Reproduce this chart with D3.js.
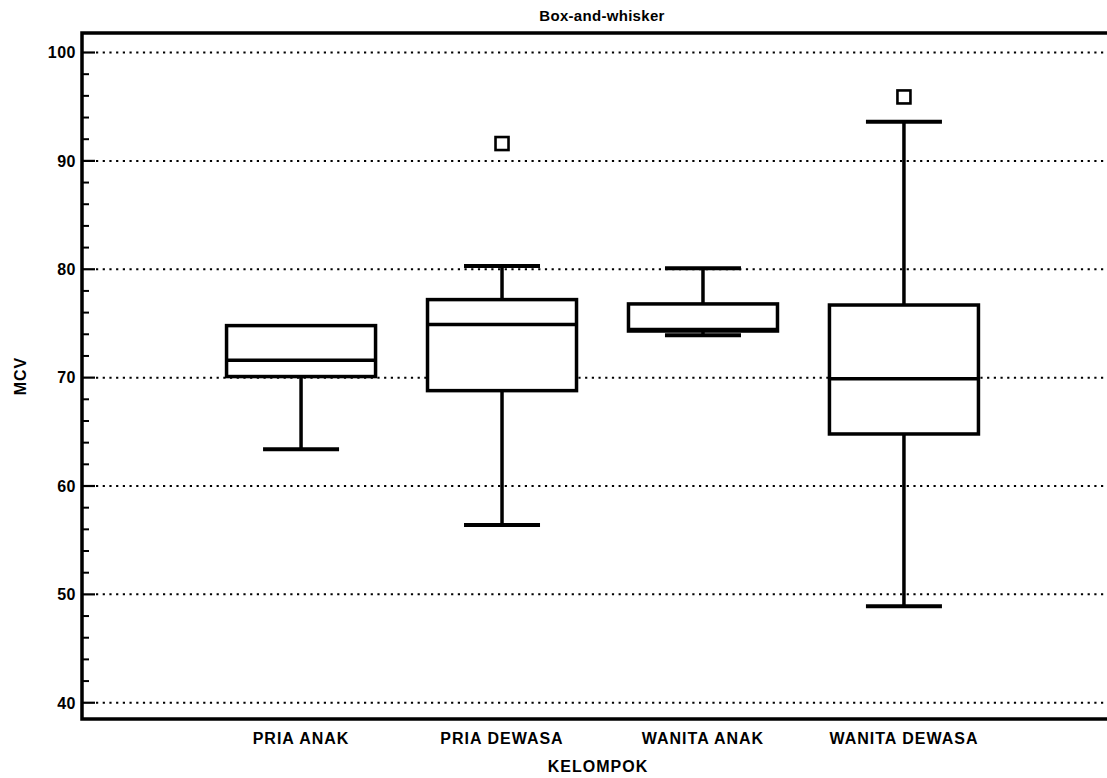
<!DOCTYPE html>
<html>
<head>
<meta charset="utf-8">
<script src="https://cdn.jsdelivr.net/npm/d3@7"></script>
<style>
  html, body { margin: 0; padding: 0; background: #fff; overflow: hidden; }
  svg { display: block; }
  text { font-family: "Liberation Sans", Arial, sans-serif; font-weight: bold; fill: #000; }
</style>
</head>
<body>
<div id="chart"></div>
<script>
// values
const groups = ["PRIA ANAK", "PRIA DEWASA", "WANITA ANAK", "WANITA DEWASA"];
const whiskerLow = [63.4, 56.4, 73.9, 48.9];
const q1 = [70.1, 68.8, 74.3, 64.8];
const median = [71.6, 74.9, 74.45, 69.9];
const q3 = [74.8, 77.2, 76.8, 76.7];
const whiskerHigh = [74.8, 80.3, 80.1, 93.6];
const outliers = [[], [91.6], [], [95.9]];
const majorTicks = [40, 50, 60, 70, 80, 90, 100];
const minorTicks = d3.range(40, 101, 2).filter(v => v % 10 !== 0);

const width = 1107, height = 778;
const plot = { left: 82, right: 1123, top: 33, bottom: 719 };

const svg = d3.select("#chart").append("svg")
    .attr("width", width).attr("height", height);

const x = d3.scalePoint().domain(groups).range([plot.left, plot.right]).padding(1.09);
const y = d3.scaleLinear().domain([38.5, 101.8]).range([plot.bottom, plot.top]);

const boxW = 149, capW = 76;

// gridlines
svg.append("g").selectAll("line")
    .data(majorTicks)
    .join("line")
    .attr("x1", plot.left + 14).attr("x2", plot.right)
    .attr("y1", d => y(d)).attr("y2", d => y(d))
    .attr("stroke", "#000").attr("stroke-width", 2)
    .attr("stroke-dasharray", "2.2,4.5");

// y axis ticks (inside)
const yAxis = svg.append("g").attr("transform", `translate(${plot.left},0)`);
yAxis.selectAll("line.major").data(majorTicks).join("line").attr("class", "major")
    .attr("x1", 0).attr("x2", 13)
    .attr("y1", d => y(d)).attr("y2", d => y(d))
    .attr("stroke", "#000").attr("stroke-width", 2.2);
yAxis.selectAll("line.minor").data(minorTicks).join("line").attr("class", "minor")
    .attr("x1", 0).attr("x2", 7)
    .attr("y1", d => y(d)).attr("y2", d => y(d))
    .attr("stroke", "#000").attr("stroke-width", 2);
yAxis.selectAll("text").data(majorTicks).join("text")
    .attr("x", -6).attr("y", d => y(d))
    .attr("dy", "0.36em")
    .attr("text-anchor", "end")
    .style("font-size", "16px").style("letter-spacing", "0.5px")
    .text(d => d);

// boxes
const box = svg.append("g").selectAll("g")
    .data(groups.map((g, i) => ({ g, lo: whiskerLow[i], q1: q1[i], med: median[i], q3: q3[i], hi: whiskerHigh[i], out: outliers[i] })))
    .join("g")
    .attr("transform", d => `translate(${x(d.g)},0)`);

// whisker stems
box.filter(d => d.hi > d.q3).append("line")
    .attr("y1", d => y(d.q3)).attr("y2", d => y(d.hi))
    .attr("stroke", "#000").attr("stroke-width", 3.5);
box.filter(d => d.lo < d.q1).append("line")
    .attr("y1", d => y(d.q1)).attr("y2", d => y(d.lo))
    .attr("stroke", "#000").attr("stroke-width", 3.5);
// caps
box.filter(d => d.hi > d.q3).append("line")
    .attr("x1", -capW / 2).attr("x2", capW / 2)
    .attr("y1", d => y(d.hi)).attr("y2", d => y(d.hi))
    .attr("stroke", "#000").attr("stroke-width", 4);
box.filter(d => d.lo < d.q1).append("line")
    .attr("x1", -capW / 2).attr("x2", capW / 2)
    .attr("y1", d => y(d.lo)).attr("y2", d => y(d.lo))
    .attr("stroke", "#000").attr("stroke-width", 4);

box.append("rect")
    .attr("x", -boxW / 2).attr("width", boxW)
    .attr("y", d => y(d.q3)).attr("height", d => y(d.q1) - y(d.q3))
    .attr("fill", "#fff").attr("stroke", "#000").attr("stroke-width", 3.5);
box.append("line")
    .attr("x1", -boxW / 2).attr("x2", boxW / 2)
    .attr("y1", d => y(d.med)).attr("y2", d => y(d.med))
    .attr("stroke", "#000").attr("stroke-width", 3.5);

// outliers
box.selectAll("rect.out").data(d => d.out).join("rect").attr("class", "out")
    .attr("x", -6.5).attr("width", 13)
    .attr("y", v => y(v) - 6.5).attr("height", 13)
    .attr("fill", "#fff").attr("stroke", "#000").attr("stroke-width", 2.6);

// frame
svg.append("rect")
    .attr("x", plot.left).attr("y", plot.top)
    .attr("width", plot.right - plot.left).attr("height", plot.bottom - plot.top)
    .attr("fill", "none").attr("stroke", "#000").attr("stroke-width", 3.5);

// category labels
svg.append("g").selectAll("text").data(groups).join("text")
    .attr("x", d => x(d)).attr("y", 744)
    .attr("text-anchor", "middle")
    .style("font-size", "16px").style("letter-spacing", "1px")
    .text(d => d);

// titles
svg.append("text").attr("x", 602).attr("y", 21)
    .attr("text-anchor", "middle")
    .style("font-size", "15px").style("letter-spacing", "0.3px")
    .text("Box-and-whisker");
svg.append("text").attr("x", 598).attr("y", 772)
    .attr("text-anchor", "middle")
    .style("font-size", "16px").style("letter-spacing", "1px")
    .text("KELOMPOK");
svg.append("text")
    .attr("transform", "translate(26,376) rotate(-90)")
    .attr("text-anchor", "middle")
    .style("font-size", "16px").style("letter-spacing", "1px")
    .text("MCV");
</script>
</body>
</html>
